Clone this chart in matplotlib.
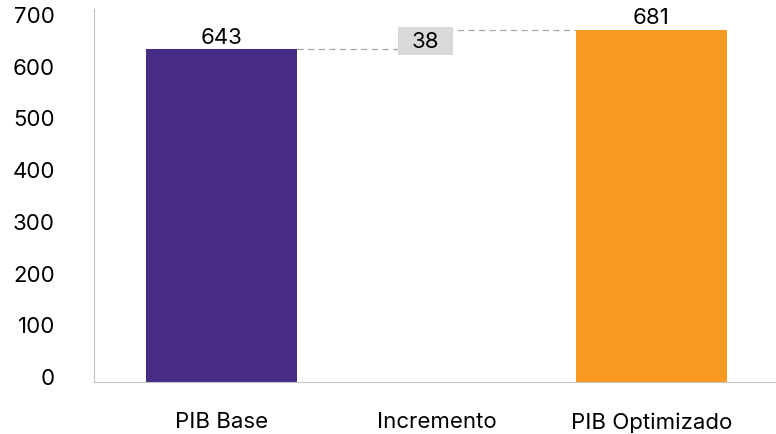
import matplotlib
matplotlib.use("Agg")
import matplotlib.pyplot as plt
import matplotlib.transforms as mtransforms

# datos del grafico de cascada
categorias = ["PIB Base", "Incremento", "PIB Optimizado"]
pib_base = 643
incremento = 38
pib_optimizado = pib_base + incremento

plt.rcParams['font.family'] = ['Inter', 'DejaVu Sans']

fig = plt.figure(figsize=(7.76, 4.35), dpi=100)
ax = fig.add_axes([0.121, 0.1195, 0.879, 0.8575])

x = [0, 1, 2]
ancho = 0.70

# barras totales
ax.bar(x[0], pib_base, width=ancho, color="#472C85", zorder=2)
ax.bar(x[2], pib_optimizado, width=ancho, color="#F99822", zorder=2)
# barra del incremento (sin relleno visible)
ax.bar(x[1], incremento, bottom=pib_base, width=ancho, color="none", zorder=2)

# lineas de conexion
ax.hlines(pib_base, x[0] + ancho / 2, x[1], colors="#A6A6A6",
          linestyles=(0, (5, 3.5)), linewidth=0.9, zorder=1)
ax.hlines(pib_optimizado, x[1], x[2] - ancho / 2, colors="#A6A6A6",
          linestyles=(0, (5, 3.5)), linewidth=0.9, zorder=1)

# etiquetas de valores
ax.text(x[0], pib_base + 5, str(pib_base), ha="center", va="bottom", fontsize=16)
ax.text(x[2], pib_optimizado + 5, str(pib_optimizado), ha="center", va="bottom", fontsize=16)
ax.annotate(str(incremento), (x[1], pib_base + incremento / 2),
            xytext=(-8, -1), textcoords="offset points",
            ha="center", va="center", fontsize=16, zorder=3,
            bbox=dict(boxstyle="square,pad=0.62", mutation_aspect=0.26,
                      facecolor="#D9D9D9", edgecolor="none"))

ax.set_xlim(-0.593, 2.579)
ax.set_ylim(0, 721)
ax.set_yticks(range(0, 701, 100))
ax.set_xticks(x)
ax.set_xticklabels(categorias)
ax.tick_params(axis="both", length=0, labelsize=16)
ax.tick_params(axis="x", pad=21)
ax.tick_params(axis="y", pad=28)

# etiquetas del eje y un poco mas arriba
desplazar = mtransforms.ScaledTranslation(0, 0.06, fig.dpi_scale_trans)
for lab in ax.get_yticklabels():
    lab.set_horizontalalignment("right")
    lab.set_transform(lab.get_transform() + desplazar)

for s in ["top", "right"]:
    ax.spines[s].set_visible(False)
ax.spines["left"].set_color("#C4C4C4")
ax.spines["bottom"].set_color("#C4C4C4")

fig.savefig("out.png", dpi=100)
